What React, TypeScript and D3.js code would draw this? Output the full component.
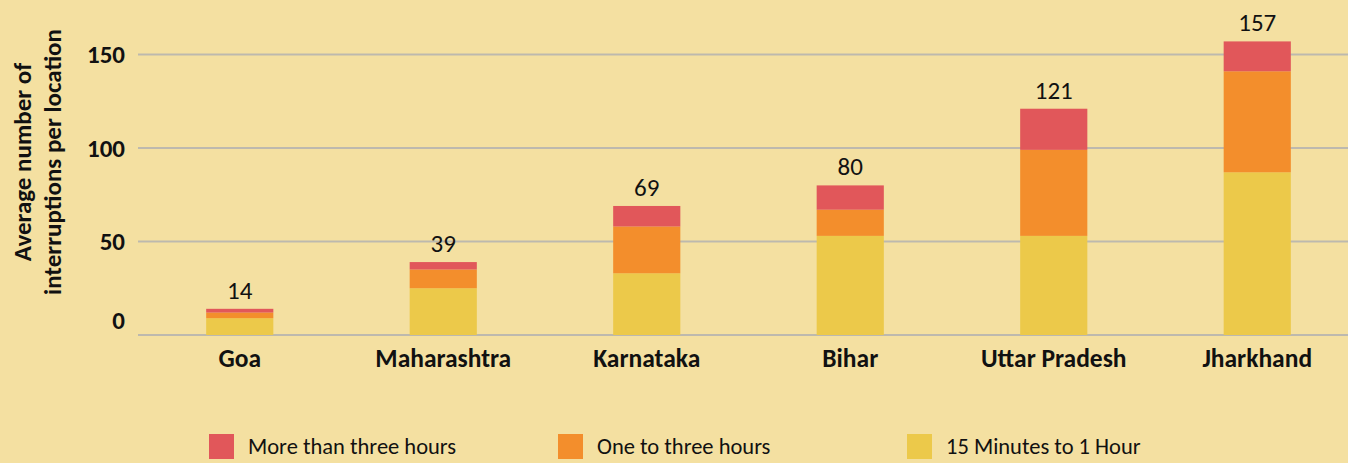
import { useEffect, useRef } from "react"
import * as d3 from "d3"

const states = ["Goa", "Maharashtra", "Karnataka", "Bihar", "Uttar Pradesh", "Jharkhand"]
const shortOutage = [9, 25, 33, 53, 53, 87]
const midOutage = [3, 10, 25, 14, 46, 54]
const longOutage = [2, 4, 11, 13, 22, 16]
const totals = [14, 39, 69, 80, 121, 157]
const yTicks = [0, 50, 100, 150]
const seriesNames = ["15 Minutes to 1 Hour", "One to three hours", "More than three hours"]
const legendOrder = ["More than three hours", "One to three hours", "15 Minutes to 1 Hour"]

const colors: Record<string, string> = {
    "15 Minutes to 1 Hour": "#ECC94A",
    "One to three hours": "#F38E2C",
    "More than three hours": "#E1575A",
}

const W = 1348
const H = 463
const font = "Carlito, Lato, 'Open Sans', sans-serif"

const App = () => {
    const ref = useRef<SVGSVGElement>(null)

    useEffect(() => {
        const svg = d3.select(ref.current)
        svg.selectAll("*").remove()

        const x = d3.scaleBand().domain(states).range([138, 1359]).paddingInner(0.67).paddingOuter(0.335)
        const y = d3.scaleLinear().domain([0, 150]).range([335, 54.5])

        const rows = states.map((s, i) => ({
            state: s,
            "15 Minutes to 1 Hour": shortOutage[i],
            "One to three hours": midOutage[i],
            "More than three hours": longOutage[i],
        }))
        const stacked = d3.stack<any>().keys(seriesNames)(rows)

        // grid
        svg.append("g")
            .selectAll("line")
            .data(yTicks)
            .join("line")
            .attr("x1", 138)
            .attr("x2", W)
            .attr("y1", d => y(d))
            .attr("y2", d => y(d))
            .attr("stroke", "#BDB9AE")
            .attr("stroke-width", 2)

        // y tick labels (Excel puts the 0 a bit high)
        svg.append("g")
            .selectAll("text")
            .data(yTicks)
            .join("text")
            .attr("x", 125)
            .attr("y", d => y(d) + (d === 0 ? -15 : 0))
            .attr("dy", "0.35em")
            .attr("text-anchor", "end")
            .attr("font-family", font)
            .attr("font-weight", "bold")
            .attr("font-size", 25)
            .attr("fill", "#111")
            .text(d => d)

        // bars
        svg.append("g")
            .selectAll("g")
            .data(stacked)
            .join("g")
            .attr("fill", d => colors[d.key])
            .selectAll("rect")
            .data(d => d)
            .join("rect")
            .attr("x", d => x(d.data.state)!)
            .attr("width", x.bandwidth())
            .attr("y", d => y(d[1]))
            .attr("height", d => y(d[0]) - y(d[1]))

        // totals
        svg.append("g")
            .selectAll("text")
            .data(states)
            .join("text")
            .attr("x", d => x(d)! + x.bandwidth() / 2)
            .attr("y", (d, i) => y(totals[i]) - 10)
            .attr("text-anchor", "middle")
            .attr("font-family", font)
            .attr("font-size", 25)
            .attr("fill", "#111")
            .text((d, i) => totals[i])

        // category labels
        svg.append("g")
            .selectAll("text")
            .data(states)
            .join("text")
            .attr("x", d => x(d)! + x.bandwidth() / 2)
            .attr("y", 367)
            .attr("text-anchor", "middle")
            .attr("font-family", font)
            .attr("font-weight", "bold")
            .attr("font-size", 25.5)
            .attr("fill", "#111")
            .text(d => d)

        // y axis title
        const title = svg.append("text")
            .attr("transform", "translate(0,162) rotate(-90)")
            .attr("text-anchor", "middle")
            .attr("font-family", font)
            .attr("font-weight", "bold")
            .attr("font-size", 25)
            .attr("fill", "#111")
        title.append("tspan").attr("x", 0).attr("y", 31).text("Average number of")
        title.append("tspan").attr("x", 0).attr("y", 61).text("interruptions per location")

        // legend
        const legendX = d3.scalePoint().domain(legendOrder).range([209, 907])
        const lg = svg.append("g")
            .selectAll("g")
            .data(legendOrder)
            .join("g")
            .attr("transform", d => `translate(${legendX(d)},434)`)
        lg.append("rect").attr("width", 25).attr("height", 25).attr("fill", d => colors[d])
        lg.append("text")
            .attr("x", 39)
            .attr("y", 20)
            .attr("font-family", font)
            .attr("font-size", 22.5)
            .attr("fill", "#111")
            .text(d => d)
    })

    return (
        <svg ref={ref} width={W} height={H} style={{ position: "absolute", left: 0, top: 0, background: "#F4E0A1" }} />
    )
}

export default App
